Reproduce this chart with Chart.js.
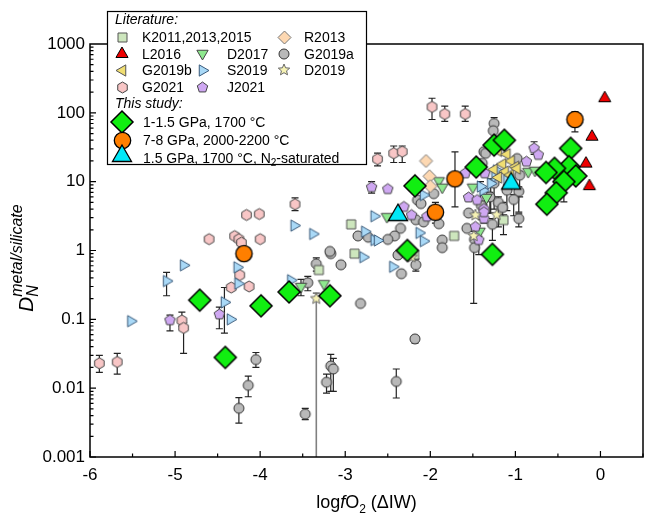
<!DOCTYPE html>
<html>
<head>
<meta charset="utf-8">
<script src="https://cdn.jsdelivr.net/npm/chart.js@4.4.1/dist/chart.umd.min.js"></script>
<style>
  html, body { margin: 0; padding: 0; background: #fff; }
  #wrap { width: 649px; height: 514px; }
</style>
</head>
<body>
<div id="wrap"><canvas id="dChart" width="649" height="514"></canvas></div>
<script>
// [logfO2, D, errLow, errHigh]
const k2011 = [[-2.93, 2.4], [-2.89, 0.9], [-1.72, 1.63], [-3.31, 0.52], [-1.14, 2.77, 1.7, 3.3], [-2.19, 0.87]];
const r2013 = [[-2.05, 20], [-2.01, 12], [-2.0, 8.6]];
const l2016 = [[0.05, 163], [-0.1, 45], [-0.17, 18.3], [-0.13, 8.6]];
const d2017 = [[-3.52, 0.3, 0.22, 0.38], [-3.25, 0.33], [-2.51, 3.1], [-1.9, 10.3], [-1.86, 8.3], [-1.5, 8.3],
  [-1.34, 5.9], [-0.85, 14], [-0.77, 14.6], [-1.42, 1.9]];
const g2019a = [[-4.05, 0.026, 0.02, 0.033], [-4.14, 0.011, 0.0075, 0.015], [-4.25, 0.0051, 0.0031, 0.0073],
  [-3.47, 0.0042, 0.0035, 0.0051], [-3.22, 0.0122, 0.0085, 0.016], [-3.17, 0.021, 0.009, 0.031],
  [-3.14, 0.019, 0.009, 0.027], [-2.4, 0.0125, 0.0072, 0.019], [-2.18, 0.052, 0.045, 0.058], [-2.82, 0.17],
  [-3.44, 0.34, 0.26, 0.42], [-3.34, 0.64, 0.5, 0.78], [-3.17, 0.9], [-3.05, 0.62], [-3.18, 0.97],
  [-2.38, 0.86], [-2.34, 0.46], [-2.17, 0.62, 0.5, 0.75], [-1.96, 6.7], [-2.15, 5.4], [-2.11, 4.8],
  [-2.17, 2.8], [-2.08, 2.6], [-1.9, 2.45], [-2.35, 2.1], [-2.42, 1.63], [-2.5, 1.45], [-2.73, 1.56],
  [-2.85, 1.63], [-1.86, 1.42], [-1.86, 1.1], [-1.57, 2.1], [-1.48, 1.45], [-1.48, 1.1],
  [-1.27, 2.4, 1.4, 2.9], [-0.96, 2.9, 2.2, 3.4], [-1.25, 70, 58, 85], [-1.26, 55], [-1.37, 27.3],
  [-1.35, 25.8], [-1.39, 18.5], [-0.98, 21.7], [-0.95, 12.4, 6, 14], [-0.96, 7.2, 3.6, 8.4], [-1.3, 6, 3.5, 7],
  [-1.2, 5, 2.2, 6], [-1.1, 7.5, 3.8, 9], [-1.25, 9.5, 4, 11], [-1.15, 4.2, 2.6, 5], [-1.02, 5.5, 3.2, 6.5],
  [-1.4, 4.5, 2.8, 5.2], [-1.55, 3.5]];
const g2019b = [[-1.2, 28], [-1.1, 25], [-1.05, 20], [-1.15, 18], [-1.0, 16.5], [-1.25, 15], [-1.12, 14],
  [-1.2, 11.5], [-1.06, 12.5], [-0.98, 15.5]];
const s2019 = [[-5.52, 0.094], [-5.1, 0.36, 0.22, 0.48], [-4.9, 0.61], [-4.42, 0.177, 0.063, 0.29], [-4.35, 0.1],
  [-4.27, 0.57], [-4.26, 0.33], [-3.6, 2.3], [-3.64, 0.37], [-3.38, 1.74], [-2.66, 3.15], [-2.08, 6.4],
  [-2.77, 1.88], [-2.66, 1.42], [-2.62, 1.4], [-2.79, 0.8], [-2.44, 0.58], [-2.13, 1.8], [-2.08, 1.37],
  [-1.38, 7.5], [-1.22, 14.6], [-1.24, 11.7], [-1.29, 9.4, 3.5, 11], [-1.41, 8.5, 4.5, 10], [-1.1, 10.5]];
const d2019 = [[-3.34, 0.2, 0.00001, 0.24, '#808080'], [-2.22, 0.8], [-1.47, 3.27], [-1.49, 1.63, 0.17, 1.9], [-1.22, 3.3]];
const g2021 = [[-5.89, 0.023, 0.017, 0.03], [-5.68, 0.024, 0.016, 0.032], [-4.92, 0.096, 0.08, 0.127],
  [-4.9, 0.075, 0.032, 0.09], [-4.6, 1.46], [-4.3, 1.62], [-4.25, 1.46], [-4.22, 1.3], [-4.0, 1.46],
  [-4.16, 3.28], [-4.01, 3.39], [-4.24, 0.44], [-4.34, 0.29], [-4.13, 0.3], [-3.59, 4.7, 3.8, 5.8],
  [-2.62, 21.3, 17, 26], [-2.43, 25.9, 19, 33], [-2.33, 27.3, 19, 33], [-1.98, 122, 80, 163],
  [-1.83, 96, 75, 125], [-1.59, 96, 75, 125]];
const j2021 = [[-5.06, 0.097, 0.068, 0.115], [-4.48, 0.118, 0.073, 0.15], [-2.69, 8.3, 6.8, 10], [-2.5, 7.8],
  [-2.31, 4.3], [-2.22, 3.27], [-2.04, 3.1], [-1.55, 5.9], [-1.45, 5.4], [-1.59, 13.2], [-1.37, 4, 2.5, 4.6],
  [-1.37, 2.9], [-1.43, 1.42, 0.87, 1.6], [-1.36, 13.2], [-0.78, 30.5, 25, 38], [-0.73, 24.5],
  [-0.87, 19.5], [-1.37, 3.6], [-1.47, 2.2]];
// this study
const lowP = [[-4.71, 0.19], [-4.41, 0.028], [-3.99, 0.157], [-3.66, 0.25], [-3.18, 0.22], [-2.27, 1.0],
  [-2.18, 8.7], [-1.46, 16.3], [-1.25, 34], [-1.13, 40], [-1.27, 0.88], [-0.35, 30.5], [-0.37, 16.5],
  [-0.54, 15.6], [-0.64, 13.6], [-0.29, 12.1], [-0.43, 10, 5.1, 10], [-0.52, 6.9], [-0.63, 4.7]];
const highP = [[-4.19, 0.9], [-1.71, 11, 4.3, 27], [-1.94, 3.6, 2.5, 5], [-0.3, 80, 53, 104]];
const nSat = [[-2.38, 3.27], [-1.05, 9.4]];

const xTicks = [-6, -5, -4, -3, -2, -1, 0];
const yTicks = [0.001, 0.01, 0.1, 1, 10, 100, 1000];

const FONT = '"Liberation Sans", Arial, sans-serif';

function shapePath(g, shape, r) {
  g.beginPath();
  const poly = (n, rr, start) => {
    for (let k = 0; k < n; k++) {
      const a = start + k * 2 * Math.PI / n;
      k ? g.lineTo(rr * Math.cos(a), rr * Math.sin(a)) : g.moveTo(rr * Math.cos(a), rr * Math.sin(a));
    }
    g.closePath();
  };
  if (shape === 'circle') g.arc(0, 0, r, 0, 2 * Math.PI);
  else if (shape === 'square') g.rect(-r, -r, 2 * r, 2 * r);
  else if (shape === 'diamond') poly(4, r, -Math.PI / 2);
  else if (shape === 'triUp') poly(3, r, -Math.PI / 2);
  else if (shape === 'triDown') poly(3, r, Math.PI / 2);
  else if (shape === 'triLeft') poly(3, r, Math.PI);
  else if (shape === 'triRight') poly(3, r, 0);
  else if (shape === 'hexagon') poly(6, r, -Math.PI / 2);
  else if (shape === 'pentagon') poly(5, r, -Math.PI / 2);
  else if (shape === 'star') {
    for (let k = 0; k < 10; k++) {
      const a = -Math.PI / 2 + k * Math.PI / 5, rr = k % 2 ? r * 0.45 : r;
      k ? g.lineTo(rr * Math.cos(a), rr * Math.sin(a)) : g.moveTo(rr * Math.cos(a), rr * Math.sin(a));
    }
    g.closePath();
  }
}

function makeMarker(shape, r, fill, stroke, lw) {
  const s = Math.ceil(2 * r + 4);
  const c = document.createElement('canvas');
  c.width = s; c.height = s;
  const g = c.getContext('2d');
  g.translate(s / 2, s / 2);
  shapePath(g, shape, r);
  g.fillStyle = fill; g.fill();
  g.lineWidth = lw || 1; g.strokeStyle = stroke; g.stroke();
  return c;
}

const mk = {
  k2011: makeMarker('square', 4.5, '#cde6bd', '#555'),
  r2013: makeMarker('diamond', 6.5, '#fdd8b2', '#777'),
  l2016: makeMarker('triUp', 7, '#ee0000', '#000'),
  d2017: makeMarker('triDown', 6.5, '#8ee88e', '#444'),
  g2019a: makeMarker('circle', 5, '#b9b9b9', '#333'),
  g2019b: makeMarker('triLeft', 6.5, '#f0de72', '#555'),
  s2019: makeMarker('triRight', 6.5, '#a9d9f7', '#3a5a7a'),
  d2019: makeMarker('star', 6, '#f6f2b4', '#666'),
  g2021: makeMarker('hexagon', 5.5, '#f8c6c6', '#444'),
  j2021: makeMarker('pentagon', 5.5, '#cfa8f2', '#444'),
  lowP: makeMarker('diamond', 11, '#11ee11', '#000', 1.5),
  highP: makeMarker('circle', 8.2, '#ff7f00', '#000', 1.3),
  nSat: makeMarker('triUp', 11, '#00e8f8', '#000', 1.3)
};

const pts = arr => arr.map(([x, y, lo, hi, c]) => ({ x, y, lo, hi, c }));

function series(label, arr, style, order) {
  return { label, data: pts(arr), pointStyle: mk[style], pointRadius: 5, order };
}

const datasets = [
  series('1-1.5 GPa, 1700 °C', lowP, 'lowP', 1),
  series('7-8 GPa, 2000-2200 °C', highP, 'highP', 2),
  series('1.5 GPa, 1700 °C, N2-saturated', nSat, 'nSat', 3),
  series('L2016', l2016, 'l2016', 4),
  series('R2013', r2013, 'r2013', 5),
  series('D2019', d2019, 'd2019', 6),
  series('J2021', j2021, 'j2021', 7),
  series('G2019b', g2019b, 'g2019b', 8),
  series('S2019', s2019, 's2019', 9),
  series('D2017', d2017, 'd2017', 10),
  series('K2011,2013,2015', k2011, 'k2011', 11),
  series('G2019a', g2019a, 'g2019a', 12),
  series('G2021', g2021, 'g2021', 13)
];

// frame, inward ticks and error bars under the markers
const underlay = {
  id: 'underlay',
  beforeDatasetsDraw(chart) {
    const { ctx, chartArea: a, scales: { x, y } } = chart;
    ctx.save();
    ctx.beginPath();
    ctx.rect(a.left, a.top, a.right - a.left, a.bottom - a.top);
    ctx.clip();
    chart.data.datasets.forEach((ds, i) => {
      const meta = chart.getDatasetMeta(i);
      ds.data.forEach((p, j) => {
        if (p.lo === undefined) return;
        const px = meta.data[j].x;
        const y0 = y.getPixelForValue(p.lo), y1 = y.getPixelForValue(p.hi);
        ctx.strokeStyle = p.c || '#222';
        ctx.lineWidth = p.c ? 1.6 : 1.2;
        ctx.beginPath();
        ctx.moveTo(px, y0); ctx.lineTo(px, y1);
        ctx.moveTo(px - 3.5, y0); ctx.lineTo(px + 3.5, y0);
        ctx.moveTo(px - 3.5, y1); ctx.lineTo(px + 3.5, y1);
        ctx.stroke();
      });
    });
    ctx.restore();

    ctx.save();
    ctx.strokeStyle = '#000';
    ctx.lineWidth = 1.2;
    ctx.beginPath();
    for (let v = -6; v <= 0.5; v += 0.5) {
      const px = x.getPixelForValue(v);
      const len = Number.isInteger(v) ? 6 : 3.5;
      ctx.moveTo(px, a.bottom); ctx.lineTo(px, a.bottom - len);
    }
    for (let e = -3; e < 3; e++) {
      for (let m = 1; m < 10; m++) {
        const py = y.getPixelForValue(m * Math.pow(10, e));
        const len = m === 1 ? 6 : 3.5;
        ctx.moveTo(a.left, py); ctx.lineTo(a.left + len, py);
      }
    }
    ctx.stroke();
    ctx.lineWidth = 1.5;
    ctx.strokeRect(a.left, a.top, a.right - a.left, a.bottom - a.top);
    ctx.restore();
  }
};

function drawRich(ctx, parts, x, y, align) {
  let w = 0;
  parts.forEach(p => { ctx.font = p.font; w += ctx.measureText(p.t).width; });
  let cx = align === 'center' ? x - w / 2 : x;
  parts.forEach(p => {
    ctx.font = p.font;
    ctx.fillText(p.t, cx, y + (p.dy || 0));
    cx += ctx.measureText(p.t).width;
  });
}

const overlay = {
  id: 'overlay',
  afterDraw(chart) {
    const { ctx, chartArea: a } = chart;
    ctx.save();
    ctx.fillStyle = '#000';
    ctx.textBaseline = 'alphabetic';

    // x title
    drawRich(ctx, [
      { t: 'log', font: '18px ' + FONT },
      { t: 'f', font: 'italic 18px ' + FONT },
      { t: 'O', font: '18px ' + FONT },
      { t: '2', font: '12px ' + FONT, dy: 5 },
      { t: ' (ΔIW)', font: '18px ' + FONT }
    ], (a.left + a.right) / 2, 508, 'center');

    // y title, reading upwards from the bottom of D
    ctx.save();
    ctx.translate(33, 312);
    ctx.rotate(-Math.PI / 2);
    ctx.font = 'italic 21px ' + FONT;
    const wD = ctx.measureText('D').width;
    ctx.fillText('D', 0, 0);
    ctx.font = 'italic 16px ' + FONT;
    ctx.fillText('N', wD, 5);
    ctx.fillText('metal/silicate', wD, -11);
    ctx.restore();

    // legend
    const L = { x: 107.5, y: 11.5, w: 259, h: 153 };
    ctx.fillStyle = '#fff';
    ctx.fillRect(L.x, L.y, L.w, L.h);
    ctx.strokeStyle = '#000';
    ctx.lineWidth = 1.2;
    ctx.strokeRect(L.x, L.y, L.w, L.h);
    ctx.fillStyle = '#000';
    ctx.textBaseline = 'middle';
    ctx.font = 'italic 14px ' + FONT;
    ctx.fillText('Literature:', 115, 20);
    ctx.fillText('This study:', 115, 104);
    const put = (m, x, y) => ctx.drawImage(m, Math.round(x - m.width / 2), Math.round(y - m.height / 2));
    const rows = [
      [['k2011', 'K2011,2013,2015', 0], ['r2013', 'R2013', 2]],
      [['l2016', 'L2016', 0], ['d2017', 'D2017', 1], ['g2019a', 'G2019a', 2]],
      [['g2019b', 'G2019b', 0], ['s2019', 'S2019', 1], ['d2019', 'D2019', 2]],
      [['g2021', 'G2021', 0], ['j2021', 'J2021', 1]]
    ];
    const colSym = [122, 202, 284], colTxt = [142, 227, 304];
    ctx.font = '14px ' + FONT;
    rows.forEach((row, r) => {
      const yy = 37 + r * 16.7;
      row.forEach(([m, t, c]) => {
        put(mk[m], colSym[c], yy);
        ctx.fillText(t, colTxt[c], yy + 1);
      });
    });
    put(mk.lowP, 122, 122);
    ctx.fillText('1-1.5 GPa, 1700 °C', 143, 123);
    put(mk.highP, 122, 140);
    ctx.fillText('7-8 GPa, 2000-2200 °C', 143, 141);
    put(mk.nSat, 122, 156);
    ctx.textBaseline = 'alphabetic';
    drawRich(ctx, [
      { t: '1.5 GPa, 1700 °C, N', font: '14px ' + FONT },
      { t: '2', font: '10px ' + FONT, dy: 3 },
      { t: '-saturated', font: '14px ' + FONT }
    ], 143, 163, 'left');
    ctx.restore();
  }
};

Chart.defaults.font.family = FONT;
Chart.defaults.color = '#000';

new Chart(document.getElementById('dChart'), {
  type: 'scatter',
  data: { datasets },
  options: {
    responsive: false,
    animation: false,
    devicePixelRatio: 1,
    layout: { padding: { top: 44, right: 2, bottom: 0, left: 0 } },
    plugins: { legend: { display: false }, tooltip: { enabled: false } },
    events: [],
    scales: {
      x: {
        type: 'linear', min: -6, max: 0.5,
        grid: { display: false, drawTicks: false }, border: { display: false },
        ticks: { font: { size: 17 }, color: '#000', padding: 8, autoSkip: false, maxRotation: 0,
          callback: v => String(v) },
        afterBuildTicks: s => { s.ticks = xTicks.map(v => ({ value: v })); },
        afterFit: s => { s.height = 57; }
      },
      y: {
        type: 'logarithmic', min: 0.001, max: 1000,
        grid: { display: false, drawTicks: false }, border: { display: false },
        ticks: { font: { size: 17 }, color: '#000', padding: 5, autoSkip: false,
          callback: v => String(v) },
        afterBuildTicks: s => { s.ticks = yTicks.map(v => ({ value: v })); },
        afterFit: s => { s.width = 90; }
      }
    }
  },
  plugins: [underlay, overlay]
});
</script>
</body>
</html>
